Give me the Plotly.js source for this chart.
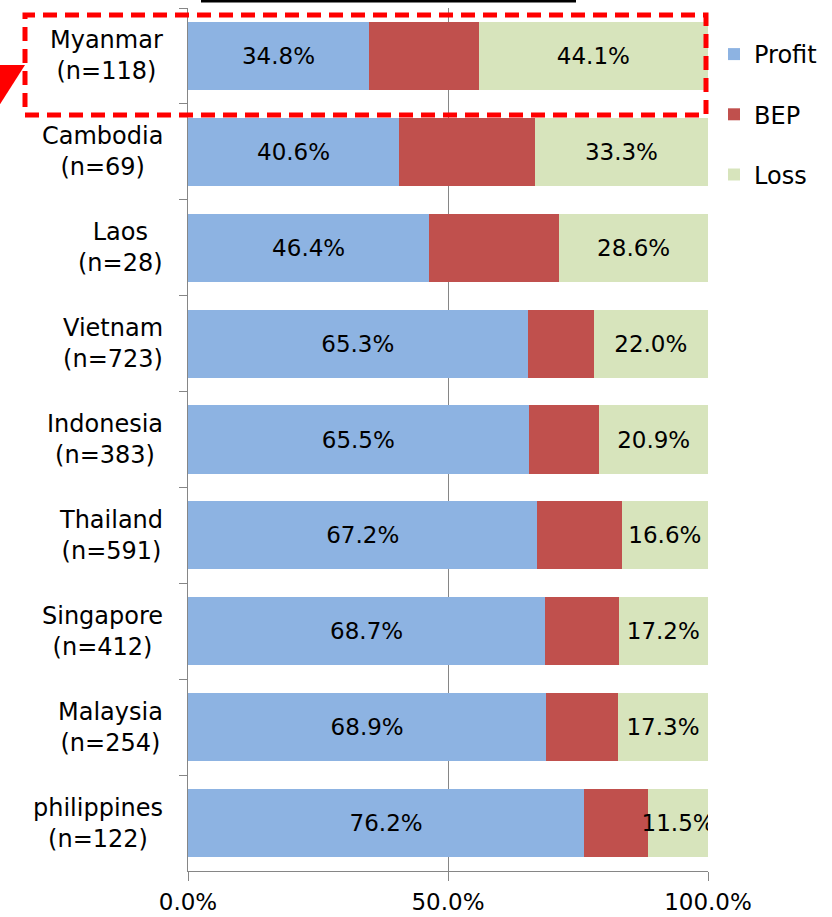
<!DOCTYPE html>
<html><head><meta charset="utf-8">
<script src="https://cdn.plot.ly/plotly-3.0.1.min.js"></script>
<style>html,body{margin:0;padding:0;background:#fff;}#chart{width:832px;height:917px;}</style>
</head><body><div id="chart"></div>
<script>
const countries = ['Myanmar','Cambodia','Laos','Vietnam','Indonesia','Thailand','Singapore','Malaysia','philippines'];
const sampleSizes = [118,69,28,723,383,591,412,254,122];
const profit = [34.8,40.6,46.4,65.3,65.5,67.2,68.7,68.9,76.2];
const bep = [21.1,26.1,25.0,12.7,13.6,16.2,14.1,13.8,12.3];
const loss = [44.1,33.3,28.6,22.0,20.9,16.6,17.2,17.3,11.5];
const seriesNames = ['Profit','BEP','Loss'];
const seriesColors = ['#8DB3E2','#C0504D','#D7E4BC'];
const xTickVals = [0,50,100];
const xTickText = ['0.0%','50.0%','100.0%'];

const FONT = 'DejaVu Sans, sans-serif';
const fmt = v => v.toFixed(1) + '%';

const series = [profit, bep, loss];
const showText = [true, false, true];
const traces = series.map((vals, i) => ({
  type: 'bar', orientation: 'h', name: seriesNames[i], legendgroup: seriesNames[i],
  y: countries, x: vals,
  marker: {color: seriesColors[i], line: {width: 0}},
  text: showText[i] ? vals.map(fmt) : undefined,
  textposition: showText[i] ? 'inside' : 'none',
  insidetextanchor: 'middle',
  constraintext: 'none',
  textangle: 0,
  textfont: {family: FONT, size: 23, color: '#000'},
  hoverinfo: 'x+y+name'
}));

const annotations = countries.map((c, i) => ({
  text: c + '<br>(n=' + sampleSizes[i] + ')',
  xref: 'paper', x: -0.044, xanchor: 'right',
  yref: 'y', y: c, yanchor: 'middle',
  align: 'center', showarrow: false,
  font: {family: FONT, size: 24, color: '#000'}
}));

const pxX = p => (p - 188) / 520;
const pxY = p => 1 - (p - 8) / 863;

const shapes = [
  {type: 'line', xref: 'paper', yref: 'paper', x0: pxX(201), x1: pxX(576), y0: pxY(1), y1: pxY(1),
   line: {color: '#000', width: 3}},
  {type: 'rect', xref: 'paper', yref: 'paper', x0: pxX(25), x1: pxX(706), y0: pxY(115), y1: pxY(15),
   line: {color: '#FF0000', width: 5, dash: '14px,8px'}, fillcolor: 'rgba(0,0,0,0)'},
  {type: 'path', xref: 'paper', yref: 'paper',
   path: 'M' + pxX(-5) + ',' + pxY(65) + ' L' + pxX(25) + ',' + pxY(65) + ' L' + pxX(-5) + ',' + pxY(112) + ' Z',
   fillcolor: '#FF0000', line: {width: 0}}
];

const layout = {
  width: 832, height: 917,
  margin: {l: 188, r: 124, t: 8, b: 46, pad: 0},
  paper_bgcolor: '#fff', plot_bgcolor: '#fff',
  barmode: 'stack', bargap: 0.29,
  font: {family: FONT, size: 22, color: '#000'},
  showlegend: true,
  legend: {x: pxX(714), xanchor: 'left', y: pxY(32), yanchor: 'top',
           traceorder: 'grouped', tracegroupgap: 26,
           font: {family: FONT, size: 24, color: '#000'}, bgcolor: 'rgba(0,0,0,0)'},
  xaxis: {range: [0, 100], tickvals: xTickVals, ticktext: xTickText,
          ticks: 'outside', ticklen: 9, tickcolor: '#868686', tickwidth: 1,
          ticklabelstandoff: 1,
          showgrid: true, gridcolor: '#868686', gridwidth: 1,
          showline: true, linecolor: '#868686', linewidth: 1, zeroline: false,
          tickfont: {family: FONT, size: 23, color: '#000'}, fixedrange: true},
  yaxis: {type: 'category', categoryorder: 'array', categoryarray: countries,
          autorange: 'reversed', showticklabels: false,
          ticks: 'outside', tickson: 'boundaries', ticklen: 8, tickcolor: '#868686',
          showline: true, linecolor: '#868686', linewidth: 1, showgrid: false,
          zeroline: false, fixedrange: true},
  annotations: annotations,
  shapes: shapes
};

Plotly.newPlot('chart', traces, layout, {displayModeBar: false, staticPlot: true});
</script>
</body></html>
